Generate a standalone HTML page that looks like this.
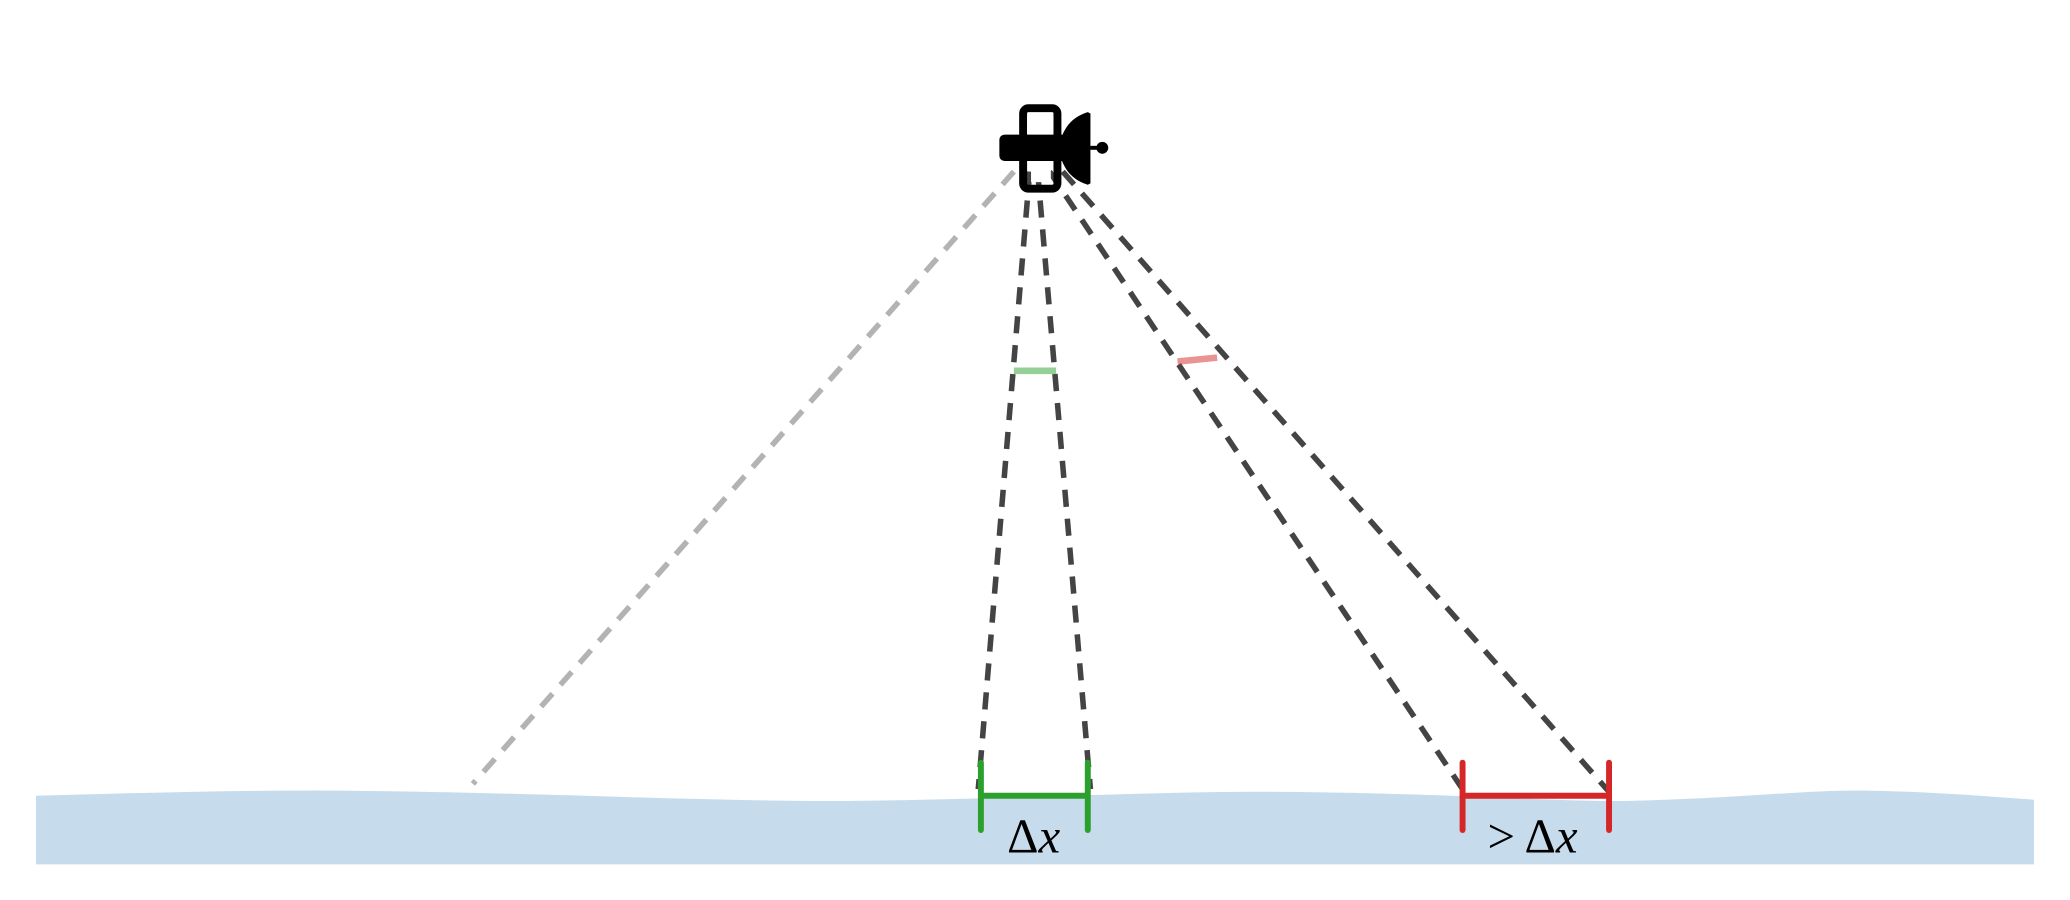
<!DOCTYPE html>
<html><head><meta charset="utf-8"><style>html,body{margin:0;padding:0;background:#fff}svg{display:block}</style></head>
<body>
<svg width="2070" height="900" viewBox="0 0 1568 682">
<path d="M27,603 C100,601 170,599 240,599 C400,600 520,607 630,607 C760,606 860,600 960,600 C1100,601 1160,607 1230,607 C1320,605 1360,599 1410,599 C1470,600 1510,604 1541,606 L1541,655 L27,655 Z" fill="#c6dcec"/>
<g stroke-dasharray="13,9" stroke-width="4.2" fill="none">
<line x1="768" y1="130" x2="358" y2="594" stroke="#b3b3b3"/>
<line x1="780" y1="130" x2="741" y2="598" stroke="#444"/>
<line x1="786" y1="130" x2="826" y2="598" stroke="#444"/>
<line x1="795" y1="130" x2="1112" y2="604" stroke="#444"/>
<line x1="805" y1="130" x2="1219" y2="600" stroke="#444"/>
</g>
<line x1="768" y1="281" x2="800" y2="281" stroke="#2ca02c" stroke-opacity="0.5" stroke-width="5"/>
<line x1="892" y1="274" x2="922" y2="271" stroke="#d62728" stroke-opacity="0.5" stroke-width="5"/>
<g stroke="#2ca02c" stroke-width="4.5" stroke-linecap="round">
<line x1="743" y1="578" x2="743" y2="629"/><line x1="824" y1="578" x2="824" y2="629"/><line x1="743" y1="603" x2="824" y2="603"/>
</g>
<g stroke="#d62728" stroke-width="4.5" stroke-linecap="round">
<line x1="1108" y1="578" x2="1108" y2="629"/><line x1="1219" y1="578" x2="1219" y2="629"/><line x1="1108" y1="603" x2="1219" y2="603"/>
</g>
<text x="783" y="646" text-anchor="middle" font-family="Liberation Serif, serif" font-size="37">Δ<tspan font-style="italic">x</tspan></text>
<text x="1161" y="646" text-anchor="middle" font-family="Liberation Serif, serif" font-size="37">&gt; Δ<tspan font-style="italic">x</tspan></text>
<g>
<rect x="757" y="102" width="56" height="20" rx="4" fill="#000"/>
<rect x="775" y="82" width="26" height="61" rx="4" fill="none" stroke="#000" stroke-width="6"/>
<rect x="778" y="88" width="20" height="13" fill="#fff"/>
<rect x="781" y="123" width="15" height="15" fill="#fff"/>
<path d="M803,108 C806,95 814,88 824,85 L826,86 L826,139 L824,140 C814,137 806,130 803,117 Z" fill="#000"/>
<line x1="826" y1="112" x2="834" y2="112" stroke="#000" stroke-width="3"/>
<circle cx="835" cy="112" r="4.5" fill="#000"/>
</g>
</svg>
</body></html>
